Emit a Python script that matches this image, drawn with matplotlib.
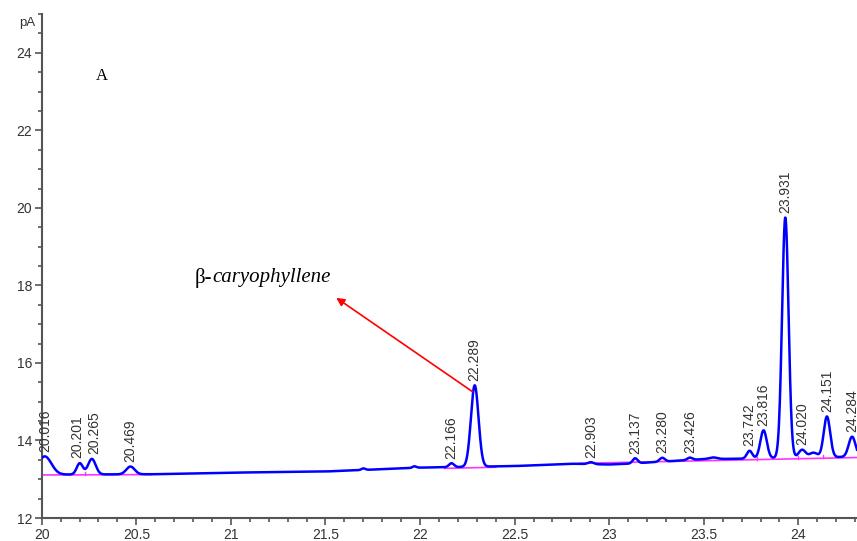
import numpy as np
import matplotlib
matplotlib.use("Agg")
import matplotlib.pyplot as plt
from matplotlib.ticker import MultipleLocator
from matplotlib.transforms import offset_copy

# ---- data ----
# baseline of the trace (time, pA)
base_t = [20.0, 20.6, 21.0, 21.5, 22.0, 22.5, 22.8, 23.0, 23.1, 23.5, 23.7, 24.0, 24.31]
base_y = [13.12, 13.13, 13.17, 13.20, 13.30, 13.34, 13.40, 13.38, 13.40, 13.52, 13.53, 13.56, 13.58]

# peaks: retention time, height above baseline, width (sigma, min)
peak_rt = [20.016, 20.201, 20.265, 20.469, 21.70, 21.97, 22.166, 22.289, 22.903,
           23.137, 23.280, 23.426, 23.55, 23.742, 23.816, 23.931, 24.020, 24.08, 24.151, 24.284]
peak_h = [0.47, 0.29, 0.40, 0.20, 0.04, 0.04, 0.10, 2.10, 0.05,
          0.13, 0.10, 0.06, 0.04, 0.20, 0.72, 6.20, 0.20, 0.12, 1.05, 0.52]
peak_w = [0.035, 0.016, 0.020, 0.022, 0.01, 0.01, 0.013, 0.020, 0.015,
          0.013, 0.014, 0.013, 0.02, 0.014, 0.017, 0.017, 0.018, 0.02, 0.017, 0.018]

# labelled peaks
label_rt = ["20.016", "20.201", "20.265", "20.469", "22.166", "22.289", "22.903",
            "23.137", "23.280", "23.426", "23.742", "23.816", "23.931", "24.020",
            "24.151", "24.284"]

# integration baseline segments (magenta)
int_segments = [([20.0, 20.58], [13.11, 13.12]),
                ([22.13, 22.40], [13.28, 13.31]),
                ([22.84, 24.31], [13.41, 13.56])]
int_marks = [20.23, 23.78, 24.0, 24.13]

xmin, xmax = 20.0, 24.31
ymin, ymax = 12.0, 25.0

# ---- build trace ----
t = np.linspace(xmin, xmax, 3000)
sig = np.interp(t, base_t, base_y)
for rt, h, w in zip(peak_rt, peak_h, peak_w):
    sig = sig + h * np.exp(-0.5 * ((t - rt) / w) ** 2)

def trace_at(x):
    return float(np.interp(x, t, sig))

fig = plt.figure(figsize=(8.57, 5.41), dpi=100)
ax = fig.add_axes([0.0487, 0.0425, 0.9513, 0.9315])
ax.set_xlim(xmin, xmax)
ax.set_ylim(ymin, ymax)

for xs, ys in int_segments:
    ax.plot(xs, ys, color="#ff33ff", lw=1.2, zorder=2)
for xm in int_marks:
    yb = np.interp(xm, [20.0, 20.58, 22.84, 24.31], [13.11, 13.12, 13.41, 13.56])
    ax.plot([xm, xm], [yb, yb + 0.08], color="#ff33ff", lw=1.0, zorder=2)

ax.plot(t, sig, color="#0000ff", lw=1.8, zorder=3, clip_on=True)

nudge = {"20.201": -1.5, "20.265": 1.5}  # points, to keep touching labels apart
for lab in label_rt:
    x = float(lab)
    y = max(trace_at(x), trace_at(x - 0.005), trace_at(x + 0.005))
    trl = offset_copy(ax.transData, fig=fig, x=nudge.get(lab, 0.0), y=0, units="points")
    ax.text(x, y + 0.12, lab, rotation=90, ha="center", va="bottom",
            fontsize=10, color="#333333", family="Liberation Sans", zorder=4,
            transform=trl)

ax.text(xmin - 0.035, 24.78, "pA", ha="right", va="center", fontsize=9.5,
        color="#333333", family="Liberation Sans")

ax.text(20.32, 23.4, "A", fontsize=12, family="Liberation Serif", ha="center", va="center")

# β- upright, caryophyllene italic, placed right after it
fig.canvas.draw()
renderer = fig.canvas.get_renderer()
tb = ax.text(20.81, 18.2, "β-", fontsize=15, family="Liberation Serif",
             ha="left", va="center")
bb = tb.get_window_extent(renderer=renderer)
w_pts = bb.width * 72.0 / fig.dpi
tr = offset_copy(ax.transData, fig=fig, x=w_pts, y=0, units="points")
ax.text(20.81, 18.2, "caryophyllene", fontsize=15, family="Liberation Serif",
        style="italic", ha="left", va="center", transform=tr)

ax.annotate("", xy=(21.557, 17.68), xytext=(22.277, 15.26),
            arrowprops=dict(arrowstyle="-|>", color="#ff0000", lw=1.2,
                            mutation_scale=12, shrinkA=0, shrinkB=0))

# axes styling
for s in ["top", "right"]:
    ax.spines[s].set_visible(False)
for s in ["left", "bottom"]:
    ax.spines[s].set_color("#555555")
    ax.spines[s].set_linewidth(1.5)

ax.xaxis.set_minor_locator(MultipleLocator(0.1))
ax.yaxis.set_major_locator(MultipleLocator(2))
ax.yaxis.set_minor_locator(MultipleLocator(0.5))
ax.set_xticks([20, 20.5, 21, 21.5, 22, 22.5, 23, 23.5, 24])
ax.set_xticklabels(["20", "20.5", "21", "21.5", "22", "22.5", "23", "23.5", "24"])
ax.tick_params(which="major", length=5, width=1.2, color="#555555",
               labelsize=10, labelcolor="#333333", pad=2)
ax.tick_params(which="minor", length=3, width=1.2, color="#555555")
for lab in ax.get_xticklabels() + ax.get_yticklabels():
    lab.set_family("Liberation Sans")

fig.savefig("out.png", dpi=100)
